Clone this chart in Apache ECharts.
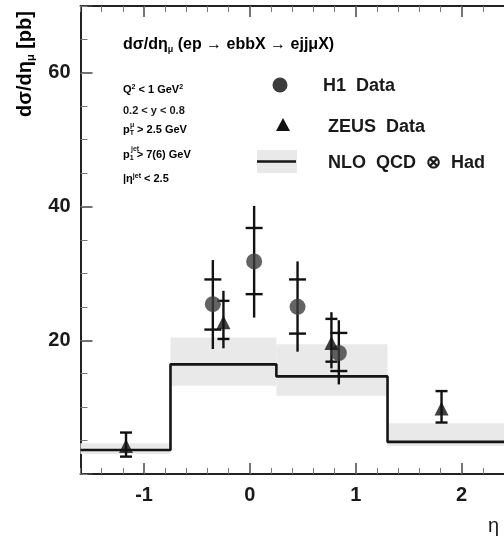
<!DOCTYPE html>
<html>
<head>
<meta charset="utf-8">
<script src="https://cdn.jsdelivr.net/npm/echarts@6/dist/echarts.min.js"></script>
<style>html,body{margin:0;padding:0;background:#fff}#c{width:504px;height:544px}</style>
</head>
<body>
<div id="c"></div>
<script>
// ---- data ----
const binEdges = [-1.6, -0.75, 0.25, 1.3, 2.4];
const nloValues = [3.6, 16.4, 14.6, 4.8];
const nloBandLo = [3.0, 13.2, 11.7, 4.2];
const nloBandHi = [4.6, 20.4, 19.4, 7.6];

const h1Eta    = [-0.35, 0.04, 0.45, 0.84];
const h1Value  = [25.4, 31.8, 25.0, 18.1];
const h1StatLo = [21.6, 26.9, 21.0, 15.4];
const h1StatHi = [29.1, 36.8, 29.1, 21.1];
const h1TotLo  = [18.7, 23.4, 18.3, 13.4];
const h1TotHi  = [32.0, 40.1, 31.8, 23.0];

const zeusEta    = [-1.17, -0.25, 0.77, 1.81];
const zeusValue  = [4.2, 22.7, 19.6, 9.8];
const zeusStatLo = [2.6, 20.2, 16.8, 7.7];
const zeusStatHi = [6.2, 25.9, 23.2, 12.4];
const zeusTotLo  = [2.6, 18.8, 15.8, 7.7];
const zeusTotHi  = [6.2, 27.4, 24.2, 12.4];

const xMajorTicks = [-1, 0, 1, 2];
const yLabelValues = [20, 40, 60];
const xMin = -1.6, xMax = 2.4;
const yMin = 0, yMax = 70;

// ---- build ----
const stepLine = [];
nloValues.forEach((v, i) => { stepLine.push([binEdges[i], v]); stepLine.push([binEdges[i + 1], v]); });
const bandData = nloValues.map((v, i) => [binEdges[i], binEdges[i + 1], nloBandLo[i], nloBandHi[i]]);
const h1Err = h1Eta.map((x, i) => [x, h1TotLo[i], h1TotHi[i], h1StatLo[i], h1StatHi[i]]);
const zeusErr = zeusEta.map((x, i) => [x, zeusTotLo[i], zeusTotHi[i], zeusStatLo[i], zeusStatHi[i]]);

const FONT = '"Liberation Sans", Arial, Helvetica, sans-serif';
const TXT = '#1a1a1a';

function errRender(capW) {
  return function (params, api) {
    const x = api.value(0);
    const pLo = api.coord([x, api.value(1)]);
    const pHi = api.coord([x, api.value(2)]);
    const sLo = api.coord([x, api.value(3)]);
    const sHi = api.coord([x, api.value(4)]);
    const st = { stroke: '#111', lineWidth: 2.4 };
    return {
      type: 'group',
      children: [
        { type: 'line', shape: { x1: pLo[0], y1: pLo[1], x2: pHi[0], y2: pHi[1] }, style: st },
        { type: 'line', shape: { x1: sLo[0] - capW / 2, y1: sLo[1], x2: sLo[0] + capW / 2, y2: sLo[1] }, style: st },
        { type: 'line', shape: { x1: sHi[0] - capW / 2, y1: sHi[1], x2: sHi[0] + capW / 2, y2: sHi[1] }, style: st }
      ]
    };
  };
}

const chart = echarts.init(document.getElementById('c'), null, { renderer: 'canvas' });

const majorTickStyle = { color: '#444', width: 1.5 };
const minorTickStyle = { color: '#777', width: 1 };

const option = {
  animation: false,
  backgroundColor: '#fff',
  grid: { left: 80.5, right: -21.5, top: 6, bottom: 70, containLabel: false },
  xAxis: [
    { type: 'value', min: xMin, max: xMax, position: 'bottom',
      axisLine: { show: true, onZero: false, lineStyle: { color: '#222', width: 2 } },
      axisTick: { show: true, inside: true, length: 11, customValues: xMajorTicks, lineStyle: majorTickStyle },
      axisLabel: { show: true, customValues: xMajorTicks, margin: 11, fontFamily: FONT, fontWeight: 'bold', fontSize: 20, color: TXT,
                   formatter: v => String(Math.round(v)) },
      splitLine: { show: false } },
    { type: 'value', min: xMin, max: xMax, interval: 0.2, position: 'bottom',
      axisLine: { show: false, onZero: false },
      axisTick: { show: true, inside: true, length: 6, lineStyle: minorTickStyle },
      axisLabel: { show: false }, splitLine: { show: false } },
    { type: 'value', min: xMin, max: xMax, position: 'top',
      axisLine: { show: true, onZero: false, lineStyle: { color: '#222', width: 2 } },
      axisTick: { show: true, inside: true, length: 11, customValues: xMajorTicks, lineStyle: majorTickStyle },
      axisLabel: { show: false }, splitLine: { show: false } },
    { type: 'value', min: xMin, max: xMax, interval: 0.2, position: 'top',
      axisLine: { show: false, onZero: false },
      axisTick: { show: true, inside: true, length: 6, lineStyle: minorTickStyle },
      axisLabel: { show: false }, splitLine: { show: false } }
  ],
  yAxis: [
    { type: 'value', min: yMin, max: yMax, interval: 20, position: 'left',
      axisLine: { show: true, onZero: false, lineStyle: { color: '#222', width: 2 } },
      axisTick: { show: true, inside: true, length: 12, lineStyle: majorTickStyle },
      axisLabel: { show: true, margin: 10, fontFamily: FONT, fontWeight: 'bold', fontSize: 20, color: TXT,
                   formatter: v => (yLabelValues.indexOf(v) >= 0 ? String(v) : '') },
      splitLine: { show: false } },
    { type: 'value', min: yMin, max: yMax, interval: 5, position: 'left',
      axisLine: { show: false, onZero: false },
      axisTick: { show: true, inside: true, length: 7, lineStyle: minorTickStyle },
      axisLabel: { show: false }, splitLine: { show: false } }
  ],
  series: [
    { name: 'NLO band', type: 'custom', xAxisIndex: 0, yAxisIndex: 0, z: 1,
      encode: { x: [0, 1], y: [2, 3] },
      data: bandData,
      renderItem: function (params, api) {
        const p0 = api.coord([api.value(0), api.value(3)]);
        const p1 = api.coord([api.value(1), api.value(2)]);
        return { type: 'rect', shape: { x: p0[0], y: p0[1], width: p1[0] - p0[0], height: p1[1] - p0[1] },
                 style: { fill: '#e9e9e9' } };
      } },
    { name: 'NLO QCD ⊗ Had', type: 'line', xAxisIndex: 0, yAxisIndex: 0, z: 2,
      data: stepLine, symbol: 'none', lineStyle: { color: '#151515', width: 2.6 } },
    { name: 'H1 err', type: 'custom', xAxisIndex: 0, yAxisIndex: 0, z: 3,
      encode: { x: 0, y: [1, 2] }, data: h1Err, renderItem: errRender(17) },
    { name: 'ZEUS err', type: 'custom', xAxisIndex: 0, yAxisIndex: 0, z: 3,
      encode: { x: 0, y: [1, 2] }, data: zeusErr, renderItem: errRender(12) },
    { name: 'H1 Data', type: 'scatter', xAxisIndex: 0, yAxisIndex: 0, z: 4,
      data: h1Eta.map((x, i) => [x, h1Value[i]]), symbol: 'circle', symbolSize: 16,
      itemStyle: { color: '#3c3c3c' } },
    { name: 'ZEUS Data', type: 'scatter', xAxisIndex: 0, yAxisIndex: 0, z: 5,
      data: zeusEta.map((x, i) => [x, zeusValue[i]]), symbol: 'triangle', symbolSize: [14, 14],
      itemStyle: { color: '#111' } }
  ],
  graphic: [
    // y-axis title
    { type: 'text', x: 25, y: 64, rotation: Math.PI / 2, z: 10,
      style: { text: '{m|dσ/dη}{s|μ}{m| [pb]}', align: 'center', verticalAlign: 'middle',
               rich: { m: { fontFamily: FONT, fontWeight: 'bold', fontSize: 20, color: TXT, lineHeight: 22 },
                       s: { fontFamily: FONT, fontWeight: 'bold', fontSize: 11, color: TXT, lineHeight: 14, verticalAlign: 'bottom' } } } },
    // x-axis title
    { type: 'text', x: 488, y: 526, z: 10,
      style: { text: 'η', fontFamily: FONT, fontSize: 20, fill: TXT, align: 'left', verticalAlign: 'middle' } },
    // process title
    { type: 'text', x: 123, y: 45, z: 10,
      style: { text: '{m|dσ/dη}{s|μ}{m| (ep → ebbX → ejjμX)}', align: 'left', verticalAlign: 'middle',
               rich: { m: { fontFamily: FONT, fontWeight: 'bold', fontSize: 16, color: TXT, lineHeight: 18 },
                       s: { fontFamily: FONT, fontWeight: 'bold', fontSize: 9, color: TXT, lineHeight: 11, verticalAlign: 'bottom' } } } },
    // cuts
    { type: 'text', x: 123, y: 90, z: 10,
      style: { text: '{m|Q}{p|2}{m| < 1 GeV}{p|2}', align: 'left', verticalAlign: 'middle',
               rich: { m: { fontFamily: FONT, fontWeight: 'bold', fontSize: 11, color: TXT, lineHeight: 13 },
                       p: { fontFamily: FONT, fontWeight: 'bold', fontSize: 7, color: TXT, lineHeight: 13, verticalAlign: 'top' } } } },
    { type: 'text', x: 123, y: 111, z: 10,
      style: { text: '0.2 < y < 0.8', fontFamily: FONT, fontWeight: 'bold', fontSize: 11, fill: TXT, align: 'left', verticalAlign: 'middle' } },
    { type: 'text', x: 123, y: 130, z: 10,
      style: { text: '{m|p}{s|T}{m| > 2.5 GeV}', align: 'left', verticalAlign: 'middle',
               rich: { m: { fontFamily: FONT, fontWeight: 'bold', fontSize: 11, color: TXT, lineHeight: 13 },
                       s: { fontFamily: FONT, fontWeight: 'bold', fontSize: 7, color: TXT, lineHeight: 9, verticalAlign: 'bottom' } } } },
    { type: 'text', x: 130, y: 125, z: 10,
      style: { text: 'μ', fontFamily: FONT, fontWeight: 'bold', fontSize: 7, fill: TXT, align: 'left', verticalAlign: 'middle' } },
    { type: 'text', x: 123, y: 155, z: 10,
      style: { text: '{m|p}{s|1}{m| > 7(6) GeV}', align: 'left', verticalAlign: 'middle',
               rich: { m: { fontFamily: FONT, fontWeight: 'bold', fontSize: 11, color: TXT, lineHeight: 13 },
                       s: { fontFamily: FONT, fontWeight: 'bold', fontSize: 7, color: TXT, lineHeight: 9, verticalAlign: 'bottom' } } } },
    { type: 'text', x: 131, y: 149, z: 10,
      style: { text: 'jet', fontFamily: FONT, fontWeight: 'bold', fontSize: 7, fill: TXT, align: 'left', verticalAlign: 'middle' } },
    { type: 'text', x: 123, y: 179, z: 10,
      style: { text: '{m||η}{p|jet}{m| < 2.5}', align: 'left', verticalAlign: 'middle',
               rich: { m: { fontFamily: FONT, fontWeight: 'bold', fontSize: 11, color: TXT, lineHeight: 13 },
                       p: { fontFamily: FONT, fontWeight: 'bold', fontSize: 7, color: TXT, lineHeight: 13, verticalAlign: 'top' } } } },
    // legend
    { type: 'circle', shape: { cx: 280, cy: 85, r: 7.5 }, style: { fill: '#3c3c3c' }, z: 10 },
    { type: 'polygon', shape: { points: [[283, 118], [290, 131], [276, 131]] }, style: { fill: '#111' }, z: 10 },
    { type: 'rect', shape: { x: 257, y: 150, width: 40, height: 23 }, style: { fill: '#e9e9e9' }, z: 10 },
    { type: 'line', shape: { x1: 257, y1: 161.5, x2: 296, y2: 161.5 }, style: { stroke: '#151515', lineWidth: 2.6 }, z: 11 },
    { type: 'text', x: 323, y: 86, z: 10,
      style: { text: 'H1  Data', fontFamily: FONT, fontWeight: 'bold', fontSize: 18, fill: TXT, align: 'left', verticalAlign: 'middle' } },
    { type: 'text', x: 328, y: 127, z: 10,
      style: { text: 'ZEUS  Data', fontFamily: FONT, fontWeight: 'bold', fontSize: 18, fill: TXT, align: 'left', verticalAlign: 'middle' } },
    { type: 'text', x: 328, y: 163, z: 10,
      style: { text: 'NLO  QCD  ⊗  Had', fontFamily: FONT, fontWeight: 'bold', fontSize: 18, fill: TXT, align: 'left', verticalAlign: 'middle' } }
  ]
};
chart.setOption(option);
</script>
</body>
</html>
